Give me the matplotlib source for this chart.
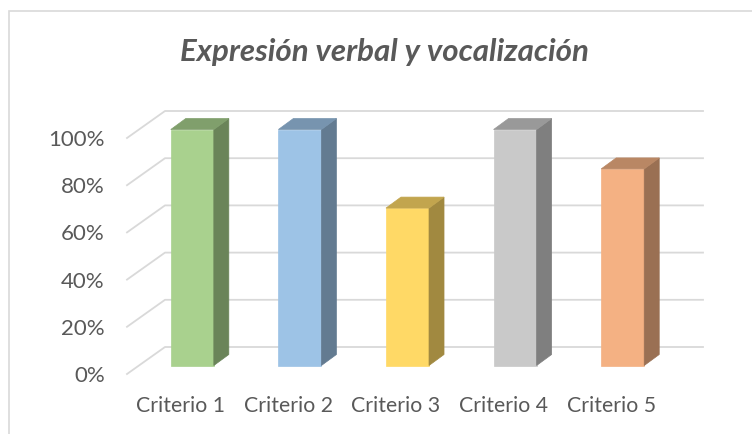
import matplotlib
matplotlib.use("Agg")
import matplotlib.pyplot as plt
import matplotlib.transforms as mtrans
from matplotlib.patches import Polygon, Rectangle
from matplotlib.lines import Line2D
import numpy as np

# ---- data ----
categories = ["Criterio 1", "Criterio 2", "Criterio 3", "Criterio 4", "Criterio 5"]
values = [1.0, 1.0, 0.667, 1.0, 0.833]
bar_colors = ["#a9d18e", "#9dc3e6", "#ffd966", "#c9c9c9", "#f4b183"]
yticks = [0.0, 0.2, 0.4, 0.6, 0.8, 1.0]
ytick_labels = ["0%", "20%", "40%", "60%", "80%", "100%"]
title = "Expresión verbal y vocalización"

FONT = "Lato"
TXT = "#595959"
GRID = "#d9d9d9"

W, H, DPI = 752, 434, 100
fig = plt.figure(figsize=(W / DPI, H / DPI), dpi=DPI)
ax = fig.add_axes([127 / W, 60 / H, 538 / W, 236 / H])
ax.set_xlim(-0.5, len(categories) - 0.5)
ax.set_ylim(0, 1)
for s in ax.spines.values():
    s.set_visible(False)
ax.patch.set_visible(False)

# 3D depth offsets in pixels (dx right, dy up)
wall = np.array([38.0, 27.0])
bar_front = np.array([11.5, 8.5])
bar_depth = np.array([15.0, 11.0])
bar_w = 0.40

fig.canvas.draw()
T = ax.transData


def disp(x, y, off):
    p = T.transform((x, y))
    return p + off


def shade(c, f):
    r, g, b = matplotlib.colors.to_rgb(c)
    return (r * f, g * f, b * f)


ident = mtrans.IdentityTransform()
x0, x1 = ax.get_xlim()
# gridlines: diagonal + back wall
for v in yticks:
    a = disp(x0, v, np.zeros(2))
    b = disp(x0, v, wall)
    c = disp(x1, v, wall)
    fig.add_artist(Line2D([a[0], b[0], c[0]], [a[1], b[1], c[1]], transform=ident,
                          color=GRID, lw=1.3, zorder=1))

# bars
for i, (v, col) in enumerate(zip(values, bar_colors)):
    xl, xr = i - bar_w / 2, i + bar_w / 2
    f_bl = disp(xl, 0, bar_front)
    f_br = disp(xr, 0, bar_front)
    f_tr = disp(xr, v, bar_front)
    f_tl = disp(xl, v, bar_front)
    back = bar_front + bar_depth
    b_br = disp(xr, 0, back)
    b_tr = disp(xr, v, back)
    b_tl = disp(xl, v, back)
    front = Polygon([f_bl, f_br, f_tr, f_tl], closed=True, transform=ident,
                    fc=col, ec=col, lw=0.5, zorder=3)
    side = Polygon([f_br, b_br, b_tr, f_tr], closed=True, transform=ident,
                   fc=shade(col, 0.63), ec=shade(col, 0.63), lw=0.5, zorder=3)
    top = Polygon([f_tl, f_tr, b_tr, b_tl], closed=True, transform=ident,
                  fc=shade(col, 0.76), ec=shade(col, 0.76), lw=0.5, zorder=3)
    for p in (front, side, top):
        fig.add_artist(p)

ax.set_xticks(range(len(categories)))
ax.set_xticklabels(categories, fontsize=15.3, color=TXT, family=FONT)
ax.set_yticks(yticks)
ax.set_yticklabels(ytick_labels, fontsize=16, color=TXT, family=FONT)
ax.tick_params(axis="x", length=0, pad=16)
ax.tick_params(axis="y", length=0, pad=16)

fig.text(384 / W, 1 - 52 / H, title, ha="center", va="center", fontsize=22.5,
         fontweight="bold", fontstyle="italic", color=TXT, family=FONT)

# chart border (left and top visible)
fig.add_artist(Rectangle((9 / W, -0.1), 1.2, (H - 11) / H + 0.1, transform=fig.transFigure,
                         fill=False, ec=GRID, lw=1.2))

fig.savefig("out.png", dpi=DPI)
